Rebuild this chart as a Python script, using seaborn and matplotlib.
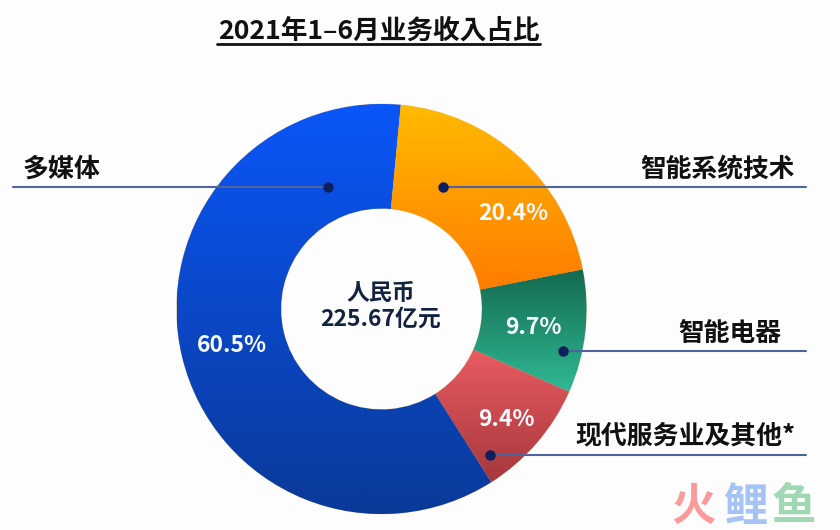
import numpy as np
import matplotlib
matplotlib.use("Agg")
import matplotlib.pyplot as plt
from matplotlib.colors import LinearSegmentedColormap
import seaborn as sns

# ---- data ----
categories = ["多媒体", "现代服务业及其他*", "智能电器", "智能系统技术"]
shares = [60.5, 9.4, 9.7, 20.4]
share_labels = ["60.5%", "9.4%", "9.7%", "20.4%"]
title = "2021年1–6月业务收入占比"
center_lines = "人民币\n225.67亿元"
watermark = ["火", "鲤", "鱼"]

# ---- style ----
W, H = 840, 530
CX, CY, R, r = 381.5, 309, 205, 100.5
gradients = [("#0A56F8", "#0A3A98"), ("#E95C62", "#A5383C"),
             ("#146A50", "#30B994"), ("#FFBA00", "#FF7C00")]
sns.set_theme(style="white")
plt.rcParams["font.family"] = ["Noto Sans CJK JP", "DejaVu Sans"]
BG = "#FDFDFD"
INK = "#111111"
LINE = "#4F639C"

fig = plt.figure(figsize=(W / 100, H / 100), dpi=100, facecolor=BG)
ax = fig.add_axes([0, 0, 1, 1])

wedges, _ = ax.pie(shares, startangle=84.6, counterclock=True, radius=1,
                   wedgeprops=dict(width=1 - r / R, linewidth=0.6, edgecolor="#F2D9B0"))

for w, (top, bottom) in zip(wedges, gradients):
    cmap = LinearSegmentedColormap.from_list("g", [top, bottom])
    w.set_facecolor(bottom)
    bb = w.get_path().get_extents(w.get_patch_transform())
    im = ax.imshow(np.linspace(0, 1, 256).reshape(-1, 1), cmap=cmap, aspect="auto",
                   extent=(bb.x0, bb.x1, bb.y0, bb.y1), origin="upper", zorder=2)
    im.set_clip_path(w)
ax.set_xlim(-CX / R, (W - CX) / R)
ax.set_ylim(-(H - CY) / R, CY / R)
ax.set_aspect("equal")
ax.axis("off")


def px(x, y):
    return (x - CX) / R, (CY - y) / R


def label(x, y, s, size, color=INK, ha="center", spacing=1.0):
    return ax.text(*px(x, y), s, fontsize=size, color=color, ha=ha, va="center",
                   fontweight="bold", zorder=6, linespacing=spacing)


# leader lines and dots
leaders = [((13, 187), (328, 187)), ((806, 187), (443, 187)),
           ((806, 351), (563, 351)), ((806, 455), (490, 455))]
for (x0, y0), (x1, y1) in leaders:
    xa, ya = px(x0, y0)
    xb, yb = px(x1, y1)
    ax.plot([xa, xb], [ya, yb], color=LINE, lw=1.5, zorder=4)
    ax.plot([xb], [yb], "o", ms=6.5, color="#0E1F5C", zorder=5)

# title
label(378.5, 31, title, 19.2)
ax.plot(*zip(px(217, 43.5), px(540, 43.5)), color="#111111", lw=2, zorder=4)

# category labels
label(23, 169.5, categories[0], 18.7, ha="left")
label(795, 169.5, categories[3], 18.5, ha="right")
label(781, 333.5, categories[2], 18.5, ha="right")
label(795, 436, categories[1], 18.6, ha="right")

# percentages
for (x, y), s in zip([(232, 345), (506, 419), (533, 328), (513, 214)], share_labels):
    label(x, y, s, 16.5, color="#F8FAFF")

# centre
label(381, 306, center_lines, 16.5, color="#13233F", spacing=1.15)

# watermark
for x, s, c in zip([694, 745, 794], watermark, ["#FB9A9A", "#A5C3F5", "#A0D8B4"]):
    label(x, 507, s, 32, color=c)

fig.savefig("out.png", dpi=100, facecolor=BG)
